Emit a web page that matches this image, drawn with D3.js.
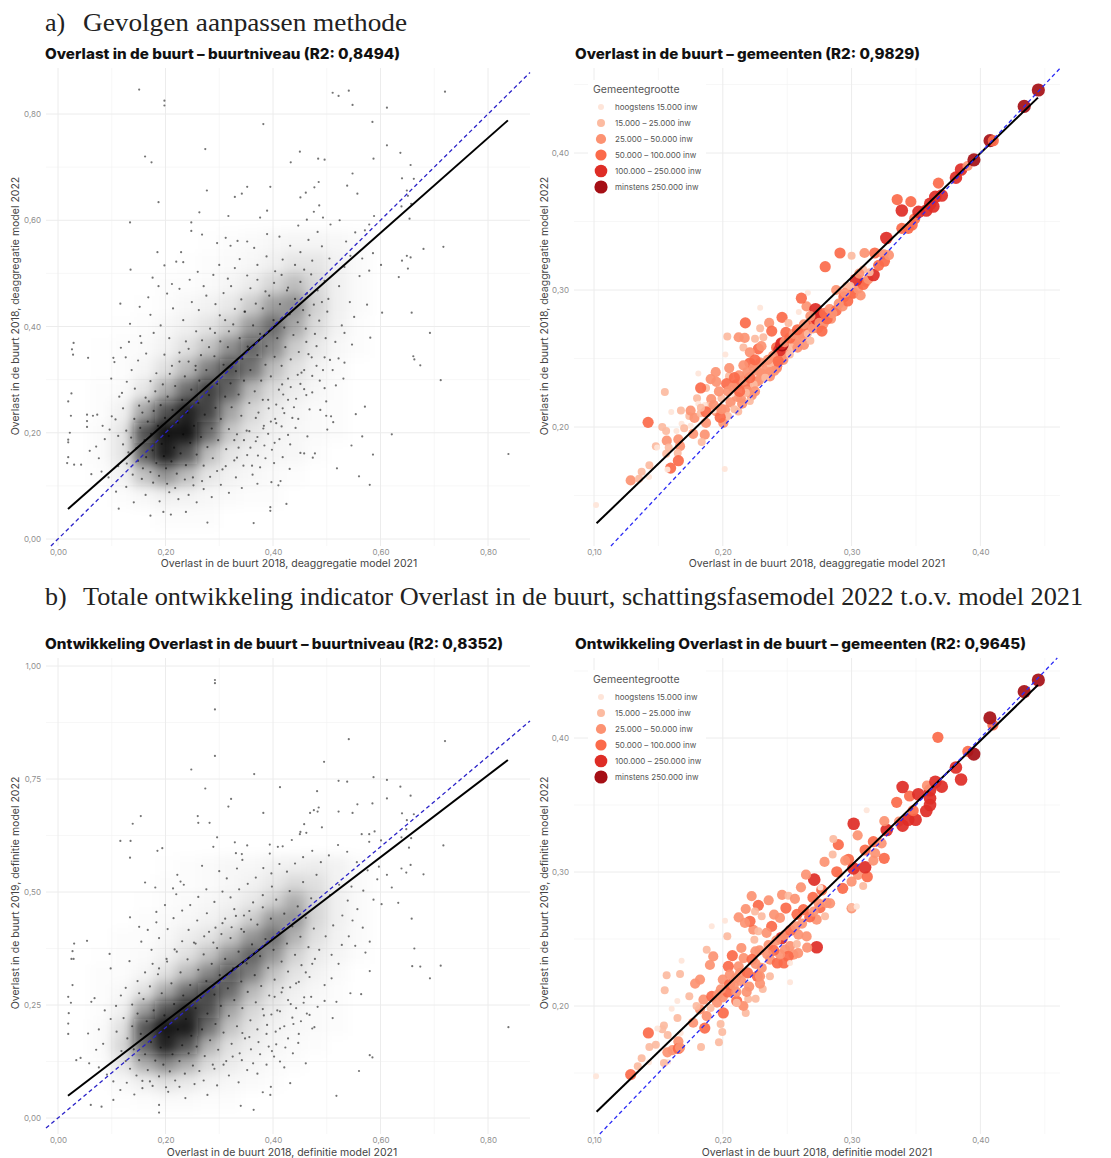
<!DOCTYPE html>
<html lang="en">
<head>
  <meta charset="UTF-8">
  <title>Overlast in de buurt</title>
  <style>body { margin: 0; background: #fff; }</style>
</head>
<body>
  <script src="https://d3js.org/d3.v7.min.js"></script>
  <script>
    const [width, height] = [1111, 1158];

    const sizeLabels = ["hoogstens 15.000 inw", "15.000 – 25.000 inw", "25.000 – 50.000 inw", "50.000 – 100.000 inw", "100.000 – 250.000 inw", "minstens 250.000 inw"];
    const sizeColors = ["#fee5d9", "#fcbba1", "#fc9272", "#fb6a4a", "#de2d26", "#a50f15"];
    const sizeRadii = [3, 4, 5.1, 5.6, 6.3, 6.6];

    const fitA = [[.0186, .0565], [.837, .788]];
    const fitB = [[.0186, .0494], [.837, .792]];
    const fitC = [[.102, .1297], [.4447, .4404]];
    const fitD = [[.102, .1211], [.4447, .4396]];

    // the cloud has far too many dots to read one by one: its darkness is read per cell here,
    // the separate dots below are the ones that can be made out (a hand-read sample)
    const cloudX = [.08, .12, .16, .20, .24, .28, .32, .36, .40, .44, .48, .52, .56];
    const cloudY = [.56, .52, .48, .44, .40, .36, .32, .28, .24, .20, .16, .12, .08, .04];
    const cloudA = [
      [0, 0, 0, 0, 0, .005, .01, .02, .03, .04, .04, .03, .02],
      [0, 0, 0, 0, .005, .01, .02, .03, .06, .10, .10, .05, .02],
      [0, 0, 0, .01, .01, .02, .04, .08, .16, .26, .15, .06, .02],
      [0, 0, .005, .01, .03, .05, .09, .20, .38, .44, .18, .06, .02],
      [0, .005, .01, .03, .06, .11, .20, .40, .58, .34, .14, .05, .01],
      [.005, .01, .02, .05, .12, .24, .44, .66, .46, .20, .09, .03, .01],
      [.005, .01, .04, .12, .28, .50, .72, .55, .26, .12, .05, .02, 0],
      [.01, .02, .10, .32, .58, .80, .60, .28, .14, .07, .03, .01, 0],
      [.01, .06, .36, .72, .92, .78, .36, .16, .08, .04, .02, .01, 0],
      [.02, .10, .72, .98, .98, .58, .22, .10, .05, .03, .02, .01, 0],
      [.02, .10, .62, .95, .72, .26, .10, .06, .04, .03, .01, 0, 0],
      [.01, .05, .24, .42, .26, .10, .05, .03, .02, .01, 0, 0, 0],
      [0, .01, .03, .06, .05, .03, .02, .01, .01, 0, 0, 0, 0],
      [0, 0, 0, .01, .01, .01, 0, 0, 0, 0, 0, 0, 0]
    ];
    const cloudB = [
      [0, 0, 0, .005, .01, .02, .03, .03, .05, .06, .07, .05, .02],
      [0, 0, 0, .01, .01, .02, .03, .05, .09, .15, .12, .05, .02],
      [0, 0, .005, .01, .02, .03, .05, .09, .18, .32, .16, .06, .02],
      [0, 0, .01, .02, .03, .05, .09, .20, .40, .42, .16, .06, .02],
      [0, .01, .01, .03, .07, .11, .22, .42, .56, .30, .12, .05, .02],
      [.005, .01, .02, .05, .12, .24, .44, .62, .42, .18, .08, .04, .01],
      [.01, .01, .04, .12, .28, .48, .70, .50, .24, .11, .05, .02, 0],
      [.01, .03, .12, .34, .58, .78, .58, .28, .13, .06, .03, .01, 0],
      [.01, .06, .38, .72, .90, .74, .36, .16, .08, .04, .02, .01, 0],
      [.02, .12, .72, .98, .96, .56, .24, .11, .05, .03, .02, .01, 0],
      [.02, .16, .66, .92, .72, .30, .12, .07, .04, .02, .01, 0, 0],
      [.01, .10, .32, .46, .32, .14, .08, .04, .02, .01, 0, 0, 0],
      [0, .03, .07, .12, .09, .05, .03, .02, .01, 0, 0, 0, 0],
      [0, .005, .01, .02, .02, .01, .01, 0, 0, 0, 0, 0, 0]
    ];

    const dotsA = [
      [.151,.846],[.198,.825],[.198,.816],[.382,.781],[.274,.734],[.162,.720],[.174,.709],[.450,.729],[.433,.709],[.484,.716],
      [.496,.714],[.511,.840],[.522,.834],[.541,.844],[.548,.817],[.720,.842],[.612,.812],[.585,.785],[.612,.741],[.637,.727],
      [.587,.716],[.656,.704],[.548,.688],[.640,.679],[.662,.678],[.538,.665],[.557,.650],[.485,.672],[.477,.662],[.461,.652],
      [.451,.643],[.395,.663],[.352,.663],[.342,.650],[.329,.644],[.277,.656],[.187,.634],[.134,.596],[.248,.596],[.248,.580],
      [.263,.615],[.268,.573],[.317,.608],[.376,.605],[.389,.618],[.649,.656],[.651,.646],[.639,.626],[.657,.631],[.654,.603],
      [.680,.546],[.717,.550],[.640,.524],[.649,.533],[.656,.530],[.651,.509],[.634,.493],[.135,.507],[.185,.540],[.198,.515],
      [.220,.522],[.233,.521],[.229,.540],[.296,.557],[.312,.567],[.321,.552],[.334,.561],[.352,.560],[.365,.548],[.389,.574],
      [.412,.569],[.432,.552],[.447,.590],[.463,.601],[.476,.616],[.486,.628],[.493,.605],[.483,.578],[.466,.563],[.451,.540],
      [.507,.592],[.524,.600],[.536,.560],[.553,.577],[.571,.581],[.588,.608],[.579,.592],[.544,.533],[.566,.528],[.586,.538],
      [.601,.516],[.579,.505],[.561,.495],[.533,.512],[.523,.476],[.505,.528],[.491,.551],[.473,.524],[.458,.507],[.441,.516],
      [.418,.526],[.404,.504],[.388,.532],[.371,.516],[.352,.496],[.338,.527],[.329,.510],[.316,.490],[.300,.516],[.289,.497],
      [.271,.476],[.260,.503],[.245,.488],[.226,.471],[.212,.480],[.203,.462],[.187,.476],[.168,.455],[.176,.492],[.152,.437],
      [.029,.369],[.026,.357],[.028,.347],[.056,.341],[.019,.259],[.025,.274],[.024,.232],[.022,.200],[.019,.187],[.019,.182],
      [.019,.154],[.017,.143],[.030,.140],[.043,.140],[.054,.234],[.054,.222],[.054,.211],[.073,.234],[.065,.232],[.083,.213],
      [.100,.231],[.107,.225],[.103,.341],[.105,.333],[.099,.302],[.117,.360],[.126,.342],[.134,.405],[.132,.371],[.116,.443],
      [.172,.422],[.153,.382],[.155,.369],[.119,.275],[.603,.426],[.658,.426],[.692,.388],[.581,.379],[.661,.344],[.663,.338],
      [.674,.327],[.712,.299],[.571,.249],[.554,.235],[.566,.193],[.621,.197],[.586,.159],[.838,.160],[.546,.176],[.519,.133],
      [.560,.118],[.580,.102],[.425,.066],[.364,.030],[.395,.060],[.395,.053],[.278,.031],[.172,.044],[.196,.051],[.210,.046],
      [.238,.051],[.113,.057],[.499,.259],[.496,.284],[.499,.232],[.508,.231],[.501,.206],[.512,.220],[.464,.193],[.451,.162],
      [.458,.161],[.478,.161],[.474,.153],[.432,.178],[.431,.132],[.397,.107],[.410,.101],[.414,.109],[.543,.446],[.575,.441],
      [.551,.418],[.528,.402],[.516,.371],[.533,.388],[.547,.366],[.522,.340],[.533,.332],[.511,.318],[.531,.302],[.517,.289],
      [.496,.342],[.481,.326],[.487,.298],[.473,.307],[.462,.271],[.451,.292],[.439,.248],[.447,.226],[.468,.244],[.428,.262],
      [.421,.237],[.416,.212],[.404,.226],[.391,.198],[.384,.176],[.403,.181],[.372,.157],[.358,.172],[.345,.138],[.362,.121],
      [.376,.135],[.331,.116],[.342,.096],[.318,.087],[.303,.102],[.286,.079],[.271,.094],[.258,.069],[.243,.083],[.224,.075],
      [.207,.088],[.189,.071],[.163,.083],[.141,.069],[.127,.098],[.108,.089],[.094,.116],[.081,.127],[.062,.122],[.076,.152],
      [.059,.166],[.087,.188],[.071,.174],[.096,.206],[.112,.194],[.121,.246],[.114,.268],[.128,.296],[.137,.318],[.143,.283],
      [.149,.336],[.164,.349],[.178,.388],[.191,.402],[.207,.378],[.214,.434],[.233,.412],[.249,.446],[.262,.431],[.276,.458],
      [.293,.442],[.308,.463],[.322,.476],[.341,.451],[.358,.472],[.371,.488],[.386,.466],[.402,.482],[.416,.497],[.428,.473],
      [.257,.391],[.238,.372],[.226,.351],[.243,.334],[.212,.326],[.198,.347],[.183,.312],[.172,.297],[.163,.266],[.151,.251],
      [.292,.388],[.311,.412],[.329,.433],[.347,.428],[.368,.443],[.302,.372],[.318,.391],[.281,.361],[.266,.346],[.256,.318],
      [.418,.154],[.402,.143],[.386,.152],[.371,.104],[.352,.158],[.336,.172],[.328,.148],[.312,.137],[.296,.128],[.283,.117],
      [.268,.109],[.252,.101],[.236,.112],[.218,.096],[.203,.104],[.177,.106],[.156,.113],[.139,.121],[.128,.142],[.112,.137],
      [.442,.209],[.428,.196],[.412,.188],[.396,.221],[.382,.208],[.371,.192],[.356,.203],[.346,.186],[.333,.197],[.419,.272],
      [.406,.253],[.392,.246],[.381,.262],[.368,.228],[.472,.342],[.458,.318],[.446,.309],[.433,.286],[.417,.291],[.462,.371],
      [.121,.178],[.131,.163],[.127,.204],[.136,.191],[.142,.226],[.146,.171],[.149,.147],[.153,.209],[.157,.238],[.158,.133],
      [.161,.186],[.164,.154],[.167,.221],[.169,.259],[.172,.126],[.173,.198],[.176,.167],[.178,.241],[.181,.278],[.183,.143],
      [.186,.213],[.188,.119],[.191,.252],[.193,.179],[.195,.291],[.197,.156],[.199,.228],[.201,.133],[.204,.268],[.206,.194],
      [.208,.311],[.211,.146],[.213,.243],[.216,.172],[.218,.288],[.221,.123],[.223,.219],[.226,.334],[.228,.161],[.231,.262],
      [.233,.197],[.236,.306],[.238,.139],[.241,.238],[.243,.358],[.246,.181],[.248,.281],[.251,.116],[.253,.213],[.256,.326],
      [.258,.159],[.261,.256],[.263,.298],[.266,.192],[.268,.374],[.271,.138],[.273,.234],[.276,.318],[.278,.173],[.281,.271],
      [.283,.396],[.286,.208],[.288,.152],[.291,.344],[.293,.247],[.296,.292],[.298,.186],[.301,.421],[.303,.226],[.306,.131],
      [.308,.328],[.311,.268],[.313,.169],[.316,.361],[.318,.207],[.321,.293],[.323,.248],[.326,.404],[.328,.186],[.331,.316],
      [.333,.153],[.336,.272],[.338,.378],[.341,.232],[.343,.339],[.346,.298],[.348,.428],[.351,.204],[.353,.362],[.356,.256],
      [.358,.318],[.361,.138],[.363,.402],[.366,.278],[.368,.184],[.371,.346],[.373,.238],[.376,.386],[.378,.298],[.381,.434],
      [.383,.213],[.386,.328],[.388,.363],[.391,.262],[.393,.458],[.396,.306],[.398,.168],[.401,.412],[.403,.343],[.406,.218],
      [.408,.378],[.411,.281],[.413,.442],[.416,.326],[.418,.246],[.421,.398],[.423,.361],[.426,.468],[.428,.302],[.431,.423],
      [.433,.338],[.436,.228],[.438,.384],[.441,.452],[.443,.264],[.446,.408],[.448,.352],[.451,.484],[.453,.313],[.456,.431],
      [.458,.282],[.461,.396],[.463,.462],[.466,.348],[.468,.421],[.471,.498],[.473,.276],[.476,.441],[.478,.386],[.481,.363],
      [.483,.468],[.486,.411],[.488,.243],[.491,.446],[.493,.318],[.496,.486],[.498,.378],[.501,.428],[.503,.452],[.506,.337]
    ];

    const dotsB = [
      [.292,.969],[.292,.962],[.292,.904],[.292,.801],[.248,.771],[.365,.761],[.541,.838],[.720,.834],[.495,.788],[.413,.732],
      [.274,.729],[.322,.706],[.317,.689],[.522,.746],[.538,.744],[.587,.754],[.612,.748],[.637,.733],[.482,.723],[.612,.707],
      [.656,.713],[.585,.696],[.557,.694],[.548,.675],[.522,.678],[.485,.687],[.483,.678],[.469,.675],[.476,.681],[.382,.675],
      [.154,.668],[.139,.651],[.260,.668],[.261,.653],[.282,.653],[.116,.613],[.135,.613],[.185,.591],[.194,.597],[.134,.576],
      [.296,.621],[.289,.600],[.329,.610],[.640,.674],[.662,.672],[.649,.659],[.648,.639],[.639,.621],[.657,.619],[.653,.598],
      [.717,.603],[.680,.539],[.639,.552],[.656,.560],[.648,.543],[.621,.510],[.458,.650],[.451,.633],[.462,.631],[.491,.643],
      [.565,.628],[.579,.628],[.589,.634],[.601,.614],[.579,.611],[.162,.521],[.181,.510],[.222,.538],[.228,.523],[.234,.516],
      [.214,.508],[.220,.495],[.268,.558],[.300,.546],[.314,.530],[.333,.552],[.343,.571],[.331,.586],[.342,.584],[.352,.603],
      [.394,.605],[.394,.585],[.409,.600],[.418,.601],[.435,.615],[.450,.628],[.838,.201],[.712,.337],[.692,.309],[.674,.335],
      [.659,.336],[.663,.375],[.658,.441],[.633,.476],[.602,.473],[.580,.390],[.580,.325],[.544,.276],[.564,.274],[.580,.139],
      [.585,.134],[.560,.104],[.518,.049],[.364,.018],[.340,.027],[.511,.221],[.518,.257],[.509,.309],[.496,.294],[.477,.201],
      [.461,.121],[.437,.143],[.432,.077],[.413,.125],[.396,.069],[.381,.057],[.395,.051],[.278,.051],[.188,.012],[.188,.029],
      [.237,.044],[.081,.025],[.061,.029],[.103,.040],[.019,.186],[.019,.209],[.020,.232],[.019,.268],[.024,.255],[.027,.294],
      [.025,.352],[.029,.352],[.030,.386],[.027,.369],[.054,.392],[.096,.363],[.098,.331],[.134,.444],[.183,.456],[.183,.433],
      [.151,.423],[.167,.416],[.155,.390],[.174,.372],[.062,.257],[.068,.265],[.056,.187],[.034,.128],[.042,.133],[.058,.121],
      [.071,.151],[.084,.164],[.076,.112],[.091,.096],[.103,.081],[.116,.062],[.128,.078],[.142,.052],[.157,.066],[.171,.081],
      [.205,.058],[.226,.069],[.254,.075],[.271,.083],[.296,.072],[.318,.094],[.336,.079],[.352,.106],[.371,.098],[.388,.118],
      [.402,.136],[.421,.112],[.447,.166],[.428,.176],[.406,.163],[.392,.158],[.376,.141],[.359,.152],[.342,.128],[.325,.136],
      [.308,.118],[.291,.109],[.468,.228],[.452,.214],[.436,.222],[.421,.203],[.405,.191],[.389,.206],[.371,.196],[.356,.179],
      [.343,.188],[.496,.259],[.483,.246],[.471,.268],[.457,.255],[.443,.243],[.428,.261],[.413,.236],[.397,.229],[.381,.241],
      [.522,.341],[.509,.361],[.528,.383],[.541,.402],[.553,.381],[.567,.421],[.548,.437],[.529,.448],[.512,.426],[.498,.402],
      [.486,.372],[.473,.341],[.461,.322],[.448,.301],[.432,.289],[.416,.278],[.403,.268],[.572,.366],[.557,.462],[.539,.481],
      [.523,.516],[.506,.493],[.546,.512],[.568,.503],[.587,.483],[.594,.528],[.612,.538],[.597,.556],[.576,.548],[.556,.566],
      [.538,.589],[.521,.604],[.504,.581],[.489,.566],[.473,.591],[.456,.577],[.441,.563],[.426,.545],[.412,.562],[.397,.541],
      [.382,.553],[.368,.532],[.353,.518],[.337,.506],[.321,.488],[.306,.501],[.291,.478],[.276,.506],[.261,.489],[.246,.471],
      [.231,.459],[.215,.442],[.199,.471],[.204,.418],[.188,.398],[.176,.341],[.162,.322],[.148,.303],[.133,.347],[.126,.288],
      [.117,.271],[.108,.248],[.098,.219],[.087,.238],[.076,.196],[.109,.191],[.122,.221],[.138,.251],[.151,.276],[.243,.416],
      [.259,.437],[.277,.453],[.293,.421],[.311,.441],[.328,.462],[.346,.448],[.363,.477],[.381,.493],[.398,.512],[.231,.391],
      [.217,.373],[.202,.352],[.188,.331],[.256,.386],[.272,.402],[.289,.388],[.304,.407],[.323,.422],[.341,.418],[.359,.439],
      [.118,.148],[.126,.126],[.129,.176],[.134,.109],[.138,.203],[.141,.152],[.146,.094],[.148,.231],[.151,.128],[.154,.186],
      [.157,.082],[.159,.263],[.162,.141],[.165,.214],[.167,.106],[.171,.291],[.173,.168],[.176,.071],[.178,.238],[.181,.127],
      [.183,.198],[.186,.318],[.188,.092],[.191,.156],[.193,.276],[.196,.118],[.198,.227],[.201,.068],[.203,.346],[.206,.179],
      [.208,.103],[.211,.298],[.213,.141],[.216,.252],[.218,.083],[.221,.368],[.223,.196],[.226,.126],[.228,.322],[.231,.161],
      [.233,.271],[.236,.098],[.238,.219],[.241,.351],[.243,.143],[.246,.294],[.248,.182],[.251,.116],[.253,.388],[.256,.243],
      [.258,.158],[.261,.328],[.263,.104],[.266,.266],[.268,.196],[.271,.362],[.273,.137],[.276,.303],[.278,.231],[.281,.412],
      [.283,.172],[.286,.341],[.288,.118],[.291,.273],[.293,.208],[.296,.376],[.298,.151],[.301,.316],[.303,.248],[.306,.431],
      [.308,.189],[.311,.352],[.313,.126],[.316,.287],[.318,.226],[.321,.398],[.323,.164],[.326,.331],[.328,.261],[.331,.447],
      [.333,.203],[.336,.368],[.338,.143],[.341,.302],[.343,.243],[.346,.412],[.348,.176],[.351,.342],[.353,.279],[.356,.458],
      [.358,.216],[.361,.384],[.363,.121],[.366,.316],[.368,.256],[.371,.428],[.373,.168],[.376,.358],[.378,.292],[.381,.466],
      [.383,.227],[.386,.396],[.388,.186],[.391,.332],[.393,.271],[.396,.441],[.398,.148],[.401,.372],[.403,.306],[.406,.483],
      [.408,.238],[.411,.411],[.413,.198],[.416,.346],[.418,.288],[.421,.452],[.423,.156],[.426,.386],[.428,.324],[.431,.502],
      [.433,.252],[.436,.424],[.438,.208],[.441,.361],[.443,.298],[.446,.468],[.448,.186],[.451,.401],[.453,.338],[.456,.522],
      [.458,.267],[.461,.443],[.463,.231],[.466,.378],[.468,.312],[.471,.486],[.473,.198],[.476,.419],[.478,.352],[.481,.538]
    ];

    const gemeentenC = [
      [.291,.327,4],[.300,.325,2],[.310,.327,3],[.318,.327,4],[.325,.326,3],[.266,.298,1],[.181,.239,1],[.229,.287,1],[.202,.253,1],[.259,.284,1],
      [.270,.276,4],[.279,.277,3],[.2795,.317,4],[.288,.300,3],[.294,.295,4],[.296,.303,2],[.301,.297,3],[.311,.306,3],[.309,.315,2],[.265,.288,3],
      [.261,.294,4],[.246,.280,4],[.251,.276,2],[.2175,.276,4],[.236,.276,3],[.238,.270,4],[.229,.272,2],[.249,.269,4],[.2035,.266,2],[.2123,.2655,3],
      [.217,.265,3],[.225,.2645,2],[.2315,.2655,2],[.216,.258,2],[.2276,.257,4],[.221,.2545,3],[.230,.259,3],[.2418,.258,4],[.256,.261,3],[.261,.2686,4],
      [.267,.272,4],[.221,.2467,4],[.216,.245,3],[.224,.243,3],[.247,.249,3],[.2418,.2443,4],[.2366,.237,3],[.230,.239,3],[.234,.244,3],[.1945,.24,3],
      [.2048,.237,2],[.2126,.2377,3],[.1906,.235,3],[.195,.233,3],[.203,.2316,4],[.2108,.231,4],[.2185,.2297,4],[.187,.2285,2],[.1828,.2285,4],[.155,.2255,2],
      [.180,.221,2],[.191,.2204,3],[.199,.221,2],[.211,.222,3],[.2224,.223,3],[.189,.2155,2],[.181,.217,1],[.2017,.2127,3],[.195,.2114,3],[.212,.2114,2],
      [.1675,.212,2],[.16,.211,1],[.174,.208,2],[.178,.2066,3],[.1828,.210,2],[.187,.203,3],[.142,.2034,4],[.168,.2024,1],[.2004,.203,3],[.153,.200,2],
      [.186,.1944,3],[.177,.195,3],[.156,.197,2],[.164,.197,1],[.175,.201,1],[.1565,.190,3],[.1655,.191,3],[.1836,.189,2],[.148,.186,2],[.149,.185,1],
      [.1668,.186,3],[.158,.185,2],[.165,.181,2],[.156,.1805,2],[.1655,.1754,4],[.143,.172,2],[.1595,.170,4],[.157,.169,1],[.137,.1674,2],[.1285,.161,3],
      [.135,.1623,2],[.1427,.1635,1],[.2015,.1693,1],[.1016,.143,1],
      [.206,.218,3],[.214,.221,3],[.219,.226,3],[.226,.233,3],[.232,.238,3],[.240,.247,3],[.245,.251,3],[.249,.256,3],[.253,.258,2],[.257,.264,3],
      [.262,.266,3],[.266,.268,2],[.270,.272,3],[.273,.279,5],[.276,.281,5],[.272,.286,5],[.279,.283,4],[.283,.286,3],[.278,.275,3],[.244,.256,5],
      [.246,.260,6],[.2457,.261,5],[.242,.243,3],[.237,.246,2],[.228,.234,3],[.224,.231,2],[.218,.225,2],[.209,.213,2],[.204,.208,2],[.198,.207,4],
      [.193,.212,1],[.186,.216,1],[.207,.224,1],[.240,.241,3],[.252,.253,2],[.258,.258,3],[.263,.260,3],[.268,.263,2],[.274,.272,3],[.284,.279,3],
      [.288,.285,4],[.293,.288,3],[.297,.292,4],[.301,.298,4],[.305,.301,3],[.309,.304,4],[.313,.308,3],[.317,.311,5],[.321,.318,4],[.3255,.321,4],
      [.329,.3255,3],[.3035,.3075,5],[.314,.313,2],[.307,.296,3],
      [.204,.226,3],[.208,.229,3],[.213,.226,4],[.216,.234,3],[.221,.236,4],[.227,.241,3],[.229,.247,3],[.235,.249,3],[.239,.252,3],[.243,.248,4],
      [.248,.262,3],[.252,.265,4],[.255,.268,3],[.258,.271,4],[.263,.275,3],[.268,.281,3],[.275,.276,3],[.277,.270,4],[.281,.279,4],[.285,.283,3],
      [.290,.290,3],[.295,.298,3],[.299,.303,2],[.306,.312,3],[.237,.240,3],[.233,.236,2],[.225,.226,3],[.221,.219,2],[.215,.217,3],[.199,.213,3],
      [.193,.216,3],[.187,.211,4],[.183,.214,2],[.175,.212,3],[.170,.199,2],[.197,.226,3],[.205,.243,3],[.209,.236,4],[.219,.240,3],[.225,.249,4],
      [.339,.345,4],[.344,.345,4],[.347,.3475,4],[.349,.352,4],[.352,.357,5],[.358,.358,5],[.3635,.361,5],[.361,.363,5],[.365,.368,5],[.370,.369,5],
      [.3354,.366,4],[.346,.3645,4],[.339,.358,5],[.3674,.378,4],[.327,.338,5],[.381,.382,5],[.385,.388,5],[.390,.3905,3],[.395,.395,6],[.4075,.409,6],
      [.410,.409,4],[.434,.434,6],[.445,.446,6]
    ];

    const gemeentenD = [
      [.1016,.1475,1],[.1285,.1488,4],[.134,.155,2],[.137,.161,2],[.1427,.158,1],[.1575,.1583,1],[.1543,.1575,2],[.143,.1694,2],[.148,.1711,2],[.157,.1654,3],
      [.161,.167,3],[.1655,.1736,3],[.1655,.1683,4],[.1668,.169,3],[.1831,.1694,2],[.197,.1729,2],[.1422,.1799,4],[.1572,.1784,2],[.1673,.1798,1],[.1996,.1806,2],
      [.1983,.1866,2],[.1543,.1855,2],[.153,.1826,2],[.1492,.1833,1],[.1823,.1975,3],[.1875,.1925,3],[.177,.1875,3],[.186,.1835,4],[.1648,.191,2],[.1603,.198,1],
      [.2004,.1948,4],[.2178,.1948,2],[.1823,.2197,3],[.1785,.2167,3],[.1564,.2229,2],[.1668,.2239,2],[.168,.2338,1],[.1549,.2117,2],[.231,.2127,2],[.2522,.2177,1],
      [.174,.2072,2],[.1647,.2037,1],[.185,.2047,3],[.1914,.2072,4],[.1796,.2,2],[.1965,.2087,3],[.2108,.2037,4],[.216,.2,2],[.2197,.2052,2],[.216,.2,3],
      [.2108,.2025,2],[.2,.2197,3],[.2052,.216,4],[.2102,.2207,3],[.2134,.2247,3],[.2192,.2247,4],[.2123,.2296,3],[.2043,.2296,4],[.2268,.2222,4],[.2289,.2167,3],
      [.2289,.2222,3],[.2366,.2222,2],[.2302,.2284,3],[.2367,.2346,3],[.2423,.2321,4],[.2475,.2321,4],[.2144,.2433,3],[.2074,.2376,4],[.2253,.2408,3],[.1875,.242,2],
      [.1926,.237,3],[.19,.2306,3],[.2522,.2447,3],[.2575,.2462,2],[.2483,.2421,3],[.2549,.2383,3],[.2508,.2371,4],[.2522,.2321,1],[.2729,.2438,5],[.2457,.2507,5],
      [.2587,.2532,3],[.2651,.2519,3],[.2245,.2495,2],[.2035,.252,2],[.2237,.2569,3],[.2276,.2557,2],[.2379,.2594,4],[.234,.2545,3],[.2017,.2637,1],[.1914,.2595,1],
      [.2123,.2662,3],[.2211,.2632,4],[.2172,.262,3],[.2302,.2669,2],[.2398,.2682,3],[.2444,.2657,3],[.2576,.2684,4],[.2626,.2719,4],[.2755,.2734,4],[.2729,.2644,3],
      [.2794,.2669,2],[.2224,.282,3],[.2276,.2751,4],[.2356,.2789,3],[.2178,.2724,3],[.225,.2706,2],[.249,.2731,4],[.246,.283,3],[.251,.2823,2],[.256,.28,3],
      [.3,.2729,3],[.304,.2744,1],[.2806,.2769,3],[.271,.2943,5],[.2646,.298,3],[.2607,.2886,3],[.2768,.2866,4],[.2833,.2766,3],[.2758,.2885,1],[.27,.281,4],
      [.2,.2065,3],[.2038,.2105,4],[.2085,.2155,3],[.2145,.2185,3],[.2205,.2145,3],[.2055,.2235,3],[.2162,.2358,3],[.2227,.2348,4],[.2285,.2415,3],[.2355,.2455,3],
      [.2415,.2488,3],[.2475,.2525,3],[.2525,.2565,4],[.2565,.2595,3],[.2615,.2615,3],[.2675,.2665,4],[.2705,.2705,3],[.2745,.2765,3],[.2655,.2435,3],[.2585,.2395,3],
      [.2445,.2385,3],[.2395,.2415,4],[.2345,.2385,3],[.2255,.2315,3],[.1955,.2025,3],[.1905,.1985,2],[.1985,.2125,3],[.2105,.2105,3],[.2255,.2055,2],[.2185,.2105,3],
      [.2902,.2985,2],[.2931,.2878,4],[.3,.2928,3],[.3,.2736,2],[.3039,.274,1],[.309,.2896,2],[.305,.2978,3],[.3122,.2965,4],[.2885,.3002,4],[.3014,.3027,5],
      [.3105,.3035,5],[.2976,.3095,4],[.295,.3085,3],[.3169,.3085,3],[.3253,.3102,4],[.3183,.314,3],[.3105,.3164,4],[.279,.3075,3],[.2853,.313,2],[.2897,.3204,4],
      [.2858,.3246,2],[.3169,.3226,4],[.3233,.3214,3],[.3047,.3274,3],[.3016,.336,5],[.3273,.3313,5],[.3254,.338,3],[.3117,.346,1],[.3368,.3376,3],[.3396,.3346,5],
      [.344,.339,5],[.3497,.339,5],[.3478,.3458,4],[.335,.352,4],[.358,.3455,5],[.3609,.35,5],[.3609,.355,5],[.3609,.361,5],[.345,.3567,4],[.3518,.358,5],
      [.3396,.3634,5],[.3585,.3644,3],[.37,.3637,5],[.365,.3674,5],[.385,.369,5],[.381,.378,5],[.367,.4005,4],[.3903,.39,4],[.3949,.388,6],[.4097,.4097,4],
      [.4074,.415,6],[.434,.4346,6],[.445,.4433,6]
    ];

    const panels = [
      { title: "Overlast in de buurt – buurtniveau (R2: 0,8494)", titleEnd: 400, titleX: 45, titleY: 59, frame: [46, 530, 68, 546],
        xDomain: [0, .8], xRange: [58, 488], yDomain: [0, .8], yRange: [539, 114], xTicks: [0, .2, .4, .6, .8], xMinor: [.1, .3, .5, .7],
        yTicks: [0, .2, .4, .6, .8], yMinor: [.1, .3, .5, .7], xTitle: "Overlast in de buurt 2018, deaggregatie model 2021", xTitleX: 289, xTitleY: 567,
        yTitle: "Overlast in de buurt 2018, deaggregatie model 2022", yTitleX: 19, yTitleY: 306, fit: fitA, dots: dotsA, cloud: cloudA },
      { title: "Overlast in de buurt – gemeenten (R2: 0,9829)", titleEnd: 920, titleX: 575, titleY: 59, frame: [574, 1060, 68, 546],
        xDomain: [.1, .4], xRange: [594, 980.4], yDomain: [.2, .4], yRange: [427, 153], xTicks: [.1, .2, .3, .4], xMinor: [.15, .25, .35, .45],
        yTicks: [.2, .3, .4], yMinor: [.15, .25, .35, .45], xTitle: "Overlast in de buurt 2018, deaggregatie model 2021", xTitleX: 817, xTitleY: 567,
        yTitle: "Overlast in de buurt 2018, deaggregatie model 2022", yTitleX: 548, yTitleY: 306, fit: fitC, gemeenten: gemeentenC, legendY: 90 },
      { title: "Ontwikkeling Overlast in de buurt – buurtniveau (R2: 0,8352)", titleEnd: 503, titleX: 45, titleY: 649, frame: [46, 530, 658, 1134],
        xDomain: [0, .8], xRange: [58, 488], yDomain: [0, 1], yRange: [1118, 666], xTicks: [0, .2, .4, .6, .8], xMinor: [.1, .3, .5, .7],
        yTicks: [0, .25, .5, .75, 1], yMinor: [.125, .375, .625, .875], xTitle: "Overlast in de buurt 2018, definitie model 2021", xTitleX: 282, xTitleY: 1156,
        yTitle: "Overlast in de buurt 2019, definitie model 2022", yTitleX: 19, yTitleY: 893, fit: fitB, dots: dotsB, cloud: cloudB },
      { title: "Ontwikkeling Overlast in de buurt – gemeenten (R2: 0,9645)", titleEnd: 1026, titleX: 575, titleY: 649, frame: [574, 1060, 658, 1134],
        xDomain: [.1, .4], xRange: [594, 980.4], yDomain: [.2, .4], yRange: [1006, 738], xTicks: [.1, .2, .3, .4], xMinor: [.15, .25, .35, .45],
        yTicks: [.2, .3, .4], yMinor: [.15, .25, .35, .45], xTitle: "Overlast in de buurt 2018, definitie model 2021", xTitleX: 817, xTitleY: 1156,
        yTitle: "Overlast in de buurt 2019, definitie model 2022", yTitleX: 548, yTitleY: 893, fit: fitD, gemeenten: gemeentenD, legendY: 680 }
    ];

    const comma = (d) => d3.format(".2f")(d).replace(".", ",");
    const uiFont = "Inter, 'Noto Sans', sans-serif";

    const svg = d3.select(document.body).append("svg")
      .attr("width", width).attr("height", height)
      .attr("viewBox", [0, 0, width, height])
      .attr("font-family", uiFont);

    svg.append("defs").append("filter")
      .attr("id", "cloudBlur")
      .attr("filterUnits", "userSpaceOnUse")
      .attr("x", 0).attr("y", 0).attr("width", width).attr("height", height)
      .append("feGaussianBlur").attr("stdDeviation", 6);

    const headings = [
      { tag: "a)", text: "Gevolgen aanpassen methode", y: 31, end: 407 },
      { tag: "b)", text: "Totale ontwikkeling indicator Overlast in de buurt, schattingsfasemodel 2022 t.o.v. model 2021", y: 605, end: 1083 }
    ];
    const heading = svg.append("g")
      .attr("font-family", "'Liberation Serif', serif").attr("font-size", 26).attr("fill", "#222");
    heading.selectAll("text.tag").data(headings).join("text")
      .attr("class", "tag").attr("x", 45).attr("y", (d) => d.y).text((d) => d.tag);
    heading.selectAll("text.line").data(headings).join("text")
      .attr("class", "line").attr("x", 83).attr("y", (d) => d.y)
      .attr("textLength", (d) => d.end - 83).attr("lengthAdjust", "spacingAndGlyphs").text((d) => d.text);

    panels.forEach((p) => {
      const x = d3.scaleLinear().domain(p.xDomain).range(p.xRange);
      const y = d3.scaleLinear().domain(p.yDomain).range(p.yRange);
      const [left, right, top, bottom] = p.frame;
      const g = svg.append("g");

      const grid = g.append("g").attr("fill", "none");
      const vLines = (vals, sw, col) => grid.append("g").selectAll("line").data(vals).join("line")
        .attr("x1", (d) => x(d)).attr("x2", (d) => x(d)).attr("y1", top).attr("y2", bottom)
        .attr("stroke", col).attr("stroke-width", sw);
      const hLines = (vals, sw, col) => grid.append("g").selectAll("line").data(vals).join("line")
        .attr("y1", (d) => y(d)).attr("y2", (d) => y(d)).attr("x1", left).attr("x2", right)
        .attr("stroke", col).attr("stroke-width", sw);
      vLines(p.xMinor, .6, "#f1f1f1");
      hLines(p.yMinor, .6, "#f1f1f1");
      vLines(p.xTicks, 1, "#ececec");
      hLines(p.yTicks, 1, "#ececec");

      if (p.cloud) {
        const cellW = Math.abs(x(cloudX[1]) - x(cloudX[0]));
        const cellH = Math.abs(y(cloudY[0]) - y(cloudY[1]));
        const cells = p.cloud.flatMap((row, i) => row.map((v, j) => ({ cx: cloudX[j], cy: cloudY[i], v })));
        g.append("g").attr("filter", "url(#cloudBlur)")
          .selectAll("rect").data(cells.filter((d) => d.v > 0)).join("rect")
          .attr("x", (d) => x(d.cx) - cellW / 2).attr("y", (d) => y(d.cy) - cellH / 2)
          .attr("width", cellW).attr("height", cellH)
          .attr("fill", "#0a0a0a").attr("opacity", (d) => d.v);
      }

      if (p.dots) {
        g.append("g").selectAll("circle").data(p.dots).join("circle")
          .attr("cx", (d) => x(d[0])).attr("cy", (d) => y(d[1])).attr("r", 1.1)
          .attr("fill", "#000").attr("opacity", .55);
      }

      if (p.gemeenten) {
        g.append("g").selectAll("circle").data(p.gemeenten).join("circle")
          .attr("cx", (d) => x(d[0])).attr("cy", (d) => y(d[1]))
          .attr("r", (d) => sizeRadii[d[2] - 1])
          .attr("fill", (d) => sizeColors[d[2] - 1]).attr("opacity", .92);
      }

      const line = d3.line().x((d) => x(d[0])).y((d) => y(d[1]));
      g.append("path").attr("d", line(p.fit)).attr("fill", "none").attr("stroke", "#000").attr("stroke-width", 2);

      // y = x, drawn to the edges of the plot
      const low = Math.max(x.invert(left), y.invert(bottom));
      const high = Math.min(x.invert(right), y.invert(top));
      g.append("path").attr("d", line([[low, low], [high, high]])).attr("fill", "none")
        .attr("stroke", p.dots ? "#2a22c8" : "#2b2bf5").attr("stroke-width", 1.3).attr("stroke-dasharray", "4,3");

      const tidy = (a) => a
        .call((s) => s.select(".domain").remove())
        .call((s) => s.selectAll("text").attr("fill", "#8f8f8f").attr("font-size", 8).attr("font-family", uiFont));
      g.append("g").attr("transform", `translate(0,${bottom})`)
        .call(d3.axisBottom(x).tickValues(p.xTicks).tickFormat(comma).tickSize(0).tickPadding(3)).call(tidy);
      g.append("g").attr("transform", `translate(${left},0)`)
        .call(d3.axisLeft(y).tickValues(p.yTicks).tickFormat(comma).tickSize(0).tickPadding(5)).call(tidy);

      g.append("text").attr("x", p.titleX).attr("y", p.titleY)
        .attr("font-size", 14.5).attr("font-weight", 800).attr("fill", "#111")
        .attr("textLength", p.titleEnd - p.titleX).attr("lengthAdjust", "spacingAndGlyphs").text(p.title);
      g.append("text").attr("x", p.xTitleX).attr("y", p.xTitleY).attr("text-anchor", "middle")
        .attr("font-size", 10.5).attr("fill", "#444").text(p.xTitle);
      g.append("text").attr("transform", `translate(${p.yTitleX},${p.yTitleY}) rotate(-90)`).attr("text-anchor", "middle")
        .attr("font-size", 10.5).attr("fill", "#444").text(p.yTitle);

      if (p.legendY) {
        const lg = g.append("g").attr("transform", `translate(588,${p.legendY})`);
        lg.append("rect").attr("x", 0).attr("y", -10).attr("width", 118).attr("height", 112).attr("fill", "#fff");
        lg.append("text").attr("x", 5).attr("y", 3).attr("font-size", 10.5).attr("fill", "#555").text("Gemeentegrootte");
        const row = lg.selectAll("g").data(sizeLabels).join("g")
          .attr("transform", (d, i) => `translate(13,${17 + i * 16})`);
        row.append("circle").attr("r", (d, i) => sizeRadii[i]).attr("fill", (d, i) => sizeColors[i]);
        row.append("text").attr("x", 14).attr("y", 3).attr("font-size", 8).attr("fill", "#555").text((d) => d);
      }
    });
  </script>
</body>
</html>
